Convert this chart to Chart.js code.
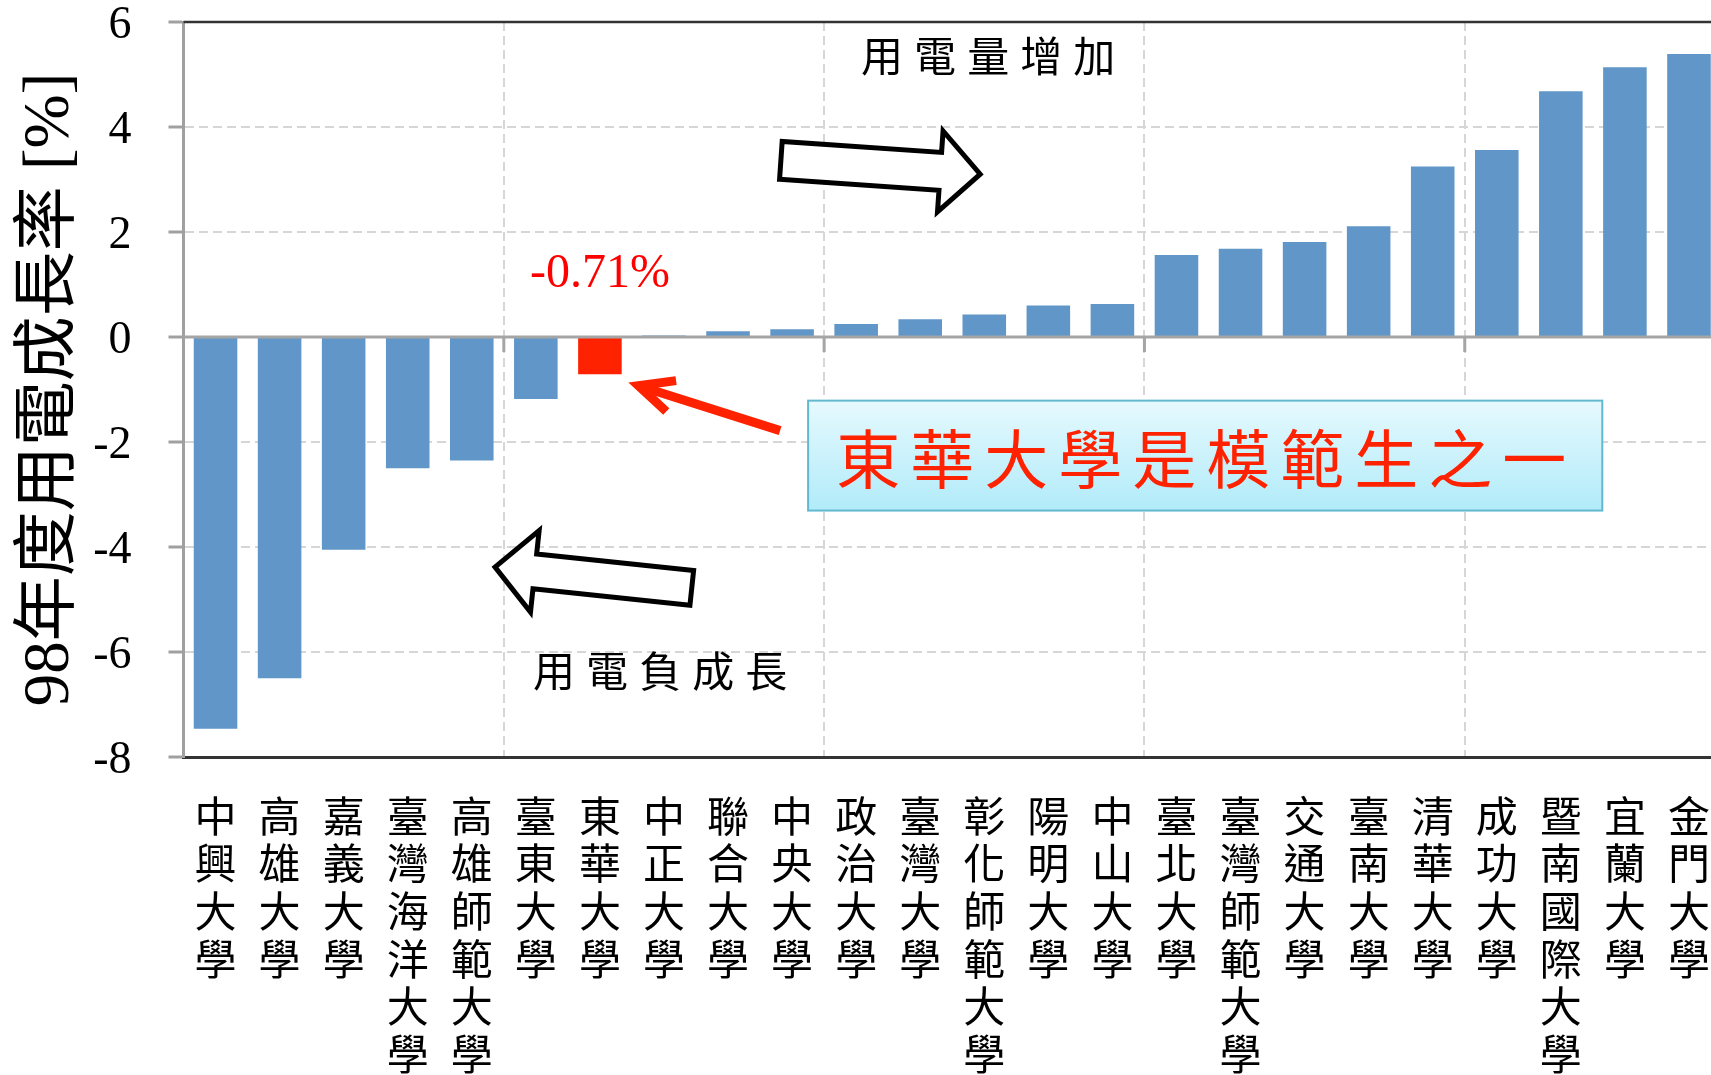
<!DOCTYPE html>
<html lang="zh-Hant">
<head>
<meta charset="utf-8">
<title>98年度用電成長率</title>
<script src="https://cdn.jsdelivr.net/npm/chart.js@4.4.1/dist/chart.umd.min.js"></script>
<style>
  html, body { margin: 0; padding: 0; background: #fff; overflow: hidden; }
  #wrap { position: relative; width: 1721px; height: 1075px; }
</style>
</head>
<body>
<div id="wrap"><canvas id="usageChart"></canvas></div>
<script>
const schools = [
  '中興大學', '高雄大學', '嘉義大學', '臺灣海洋大學', '高雄師範大學', '臺東大學',
  '東華大學', '中正大學', '聯合大學', '中央大學', '政治大學', '臺灣大學',
  '彰化師範大學', '陽明大學', '中山大學', '臺北大學', '臺灣師範大學', '交通大學',
  '臺南大學', '清華大學', '成功大學', '暨南國際大學', '宜蘭大學', '金門大學'
];
const growth = [
  -7.46, -6.5, -4.05, -2.5, -2.35, -1.18,
  -0.71, 0.03, 0.11, 0.15, 0.25, 0.34,
  0.43, 0.6, 0.63, 1.56, 1.68, 1.81,
  2.11, 3.25, 3.56, 4.68, 5.14, 5.39
];
const highlightSchool = '東華大學';
const highlightText = '-0.71%';
const yAxisTitle = '98年度用電成長率 [%]';
const noteUp = '用電量增加';
const noteDown = '用電負成長';
const noteBox = '東華大學是模範生之一';

const serif = "'Liberation Serif', 'Times New Roman', serif";
const cjk = "'Noto Sans CJK TC', 'Noto Sans CJK SC', sans-serif";

// text drawn one character at a time so the wide spacing can be kept
function spacedText(ctx, text, cx, cy, spacing) {
  const chars = text.split('');
  const widths = chars.map(c => ctx.measureText(c).width);
  const total = widths.reduce((a, b) => a + b, 0) + spacing * (chars.length - 1);
  let x = cx - total / 2;
  ctx.textAlign = 'left';
  ctx.textBaseline = 'middle';
  chars.forEach((c, i) => {
    ctx.fillText(c, x, cy);
    x += widths[i] + spacing;
  });
}

function hollowArrow(ctx, t, h, bodyHalf, headHalf, headLen) {
  const dx = h.x - t.x, dy = h.y - t.y, len = Math.hypot(dx, dy);
  const ux = dx / len, uy = dy / len, nx = -uy, ny = ux;
  const bx = h.x - ux * headLen, by = h.y - uy * headLen;
  const pts = [
    [t.x + nx * bodyHalf, t.y + ny * bodyHalf],
    [bx + nx * bodyHalf, by + ny * bodyHalf],
    [bx + nx * headHalf, by + ny * headHalf],
    [h.x, h.y],
    [bx - nx * headHalf, by - ny * headHalf],
    [bx - nx * bodyHalf, by - ny * bodyHalf],
    [t.x - nx * bodyHalf, t.y - ny * bodyHalf]
  ];
  ctx.beginPath();
  pts.forEach((p, i) => i ? ctx.lineTo(p[0], p[1]) : ctx.moveTo(p[0], p[1]));
  ctx.closePath();
  ctx.fillStyle = '#fff';
  ctx.fill();
  ctx.lineWidth = 5;
  ctx.lineJoin = 'miter';
  ctx.strokeStyle = '#000';
  ctx.stroke();
}

const decorations = {
  id: 'decorations',
  afterDatasetsDraw(chart) {
    const { ctx, chartArea: area, scales: { x, y } } = chart;
    const y0 = y.getPixelForValue(0);
    ctx.save();
    ctx.lineWidth = 3;
    ctx.strokeStyle = '#a5a5a5';
    ctx.beginPath();
    ctx.moveTo(area.left, y0);
    ctx.lineTo(area.right, y0);
    for (let i = 5; i < schools.length; i += 5) {
      const xb = x.getPixelForValue(i - 0.5);
      ctx.moveTo(xb, y0);
      ctx.lineTo(xb, y0 + 15);
    }
    ctx.stroke();
    // dark top frame line
    ctx.strokeStyle = '#333';
    ctx.lineWidth = 2.5;
    ctx.beginPath();
    ctx.moveTo(area.left, area.top);
    ctx.lineTo(area.right, area.top);
    ctx.stroke();
    ctx.restore();
  },
  afterDraw(chart) {
    const { ctx, scales: { x, y } } = chart;
    const at = (i, v) => ({ x: x.getPixelForValue(i), y: y.getPixelForValue(v) });
    ctx.save();

    // hollow arrows
    hollowArrow(ctx, at(8.825, 3.364), at(11.936, 3.102), 19, 40.5, 40);
    hollowArrow(ctx, at(7.434, -4.78), at(4.363, -4.383), 17.5, 41, 40);

    // notes
    ctx.fillStyle = '#000';
    ctx.font = '42px ' + cjk;
    let p = at(12.06, 5.357);
    spacedText(ctx, noteUp, p.x, p.y, 11);
    p = at(6.94, -6.356);
    spacedText(ctx, noteDown, p.x, p.y, 11);

    // value of the highlighted school
    ctx.fillStyle = '#ff0000';
    ctx.font = '48px ' + serif;
    p = at(schools.indexOf(highlightSchool), 1.19);
    ctx.textAlign = 'center';
    ctx.textBaseline = 'middle';
    ctx.fillText(highlightText, p.x, p.y);

    // red pointer
    const tip = at(6.601, -0.927), tail = at(8.813, -1.783);
    const ang = Math.atan2(tail.y - tip.y, tail.x - tip.x);
    ctx.strokeStyle = '#ff2200';
    ctx.lineWidth = 9;
    ctx.lineCap = 'butt';
    ctx.lineJoin = 'miter';
    ctx.beginPath();
    ctx.moveTo(tail.x, tail.y);
    ctx.lineTo(tip.x + 6 * Math.cos(ang), tip.y + 6 * Math.sin(ang));
    ctx.stroke();
    ctx.beginPath();
    ctx.moveTo(tip.x + 38 * Math.cos(ang - 0.44), tip.y + 38 * Math.sin(ang - 0.44));
    ctx.lineTo(tip.x, tip.y);
    ctx.lineTo(tip.x + 38 * Math.cos(ang + 0.44), tip.y + 38 * Math.sin(ang + 0.44));
    ctx.stroke();

    // callout box
    const a = at(9.25, -1.212), b = at(21.647, -3.306);
    const grad = ctx.createLinearGradient(0, a.y, 0, b.y);
    grad.addColorStop(0, '#e6f9fe');
    grad.addColorStop(1, '#b1ebf9');
    ctx.fillStyle = grad;
    ctx.fillRect(a.x, a.y, b.x - a.x, b.y - a.y);
    ctx.lineWidth = 2;
    ctx.strokeStyle = '#62b9cf';
    ctx.strokeRect(a.x, a.y, b.x - a.x, b.y - a.y);
    ctx.fillStyle = '#ff2200';
    ctx.font = '64px ' + cjk;
    spacedText(ctx, noteBox, (a.x + b.x) / 2 - 4, (a.y + b.y) / 2 + 3, 10);

    ctx.restore();
  }
};

const ctx = document.getElementById('usageChart').getContext('2d');
const usageChart = new Chart(ctx, {
  type: 'bar',
  data: {
    labels: schools.map(s => s.split('')),
    datasets: [{
      label: yAxisTitle,
      data: growth,
      backgroundColor: schools.map(s => s === highlightSchool ? '#ff2200' : '#6196c8'),
      barPercentage: 0.68,
      categoryPercentage: 1.0
    }]
  },
  options: {
    responsive: true,
    maintainAspectRatio: false,
    animation: false,
    layout: { padding: { top: 22, right: 0, bottom: 0, left: 0 } },
    plugins: {
      legend: { display: false },
      tooltip: { enabled: false }
    },
    scales: {
      x: {
        offset: true,
        grid: {
          offset: true,
          drawTicks: false,
          lineWidth: 2,
          color: c => (c.index && c.index % 5 === 0) ? '#d6d6d6' : 'rgba(0,0,0,0)'
        },
        border: { display: true, color: '#333', width: 3, dash: [9, 5] },
        ticks: {
          autoSkip: false,
          maxRotation: 0,
          minRotation: 0,
          padding: 35,
          color: '#000',
          font: { family: cjk, size: 42, lineHeight: 1.133 }
        },
        afterFit(scale) {
          scale.height = 318;
          scale.paddingLeft = 0;
          scale.paddingRight = 0;
        }
      },
      y: {
        min: -8,
        max: 6,
        ticks: {
          stepSize: 2,
          padding: 37,
          labelOffset: 4,
          color: '#000',
          font: { family: serif, size: 46 }
        },
        grid: {
          lineWidth: 2,
          color: c => (c.tick && [0, 6, -8].includes(c.tick.value)) ? 'rgba(0,0,0,0)' : '#d6d6d6',
          tickLength: 15,
          tickColor: '#a0a0a0',
          tickWidth: 3
        },
        border: { color: '#a0a0a0', width: 3, dash: [9, 5] },
        title: {
          display: true,
          text: yAxisTitle,
          color: '#000',
          font: { family: "'Liberation Serif', 'Noto Sans CJK TC', serif", size: 65 },
          padding: { top: 12, bottom: 0 }
        },
        afterFit(scale) {
          scale.width = 183.5;
          scale.paddingTop = 0;
          scale.paddingBottom = 0;
        }
      }
    }
  },
  plugins: [decorations]
});
</script>
</body>
</html>
